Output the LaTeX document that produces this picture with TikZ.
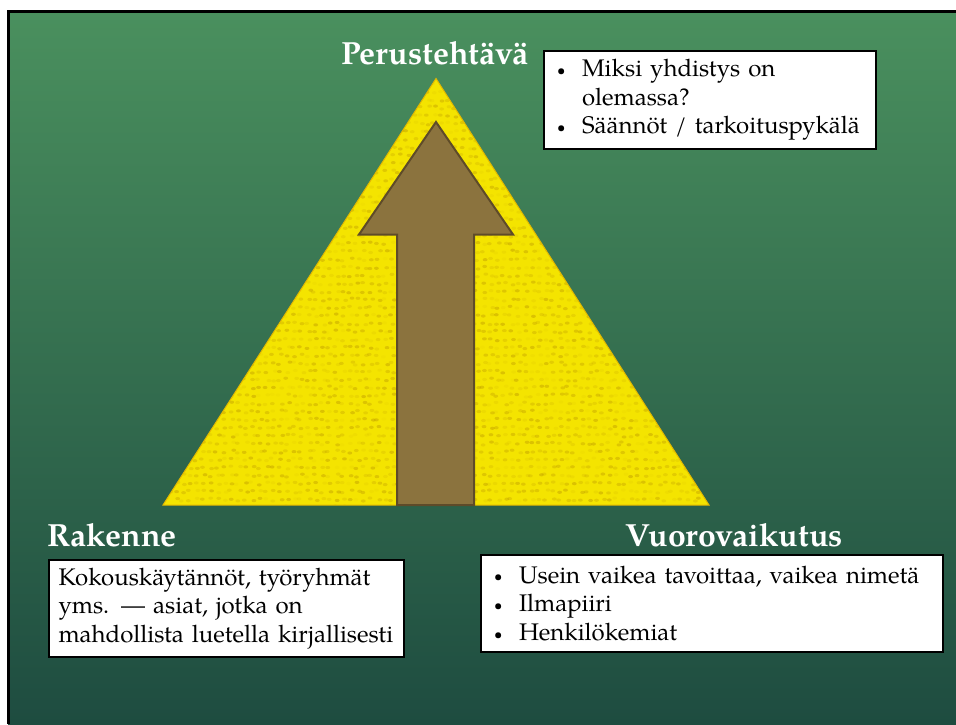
\documentclass[tikz,border=0pt]{standalone}
\usepackage{fontspec}
\setmainfont{TeX Gyre Pagella}
\definecolor{bgtop}{HTML}{4A905E}
\definecolor{bgmid}{HTML}{2E6A4C}
\definecolor{bgbot}{HTML}{1E4C40}
\definecolor{pyr}{HTML}{F4E400}
\definecolor{pyredge}{HTML}{E3B800}
\definecolor{pyrdot}{HTML}{C2A000}
\definecolor{arrowfill}{HTML}{8B733E}
\definecolor{arrowedge}{HTML}{5E4B29}
\tikzset{
  heading/.style={text=white, font=\fontsize{32}{38}\selectfont\bfseries, inner sep=0pt},
  infobox/.style={draw=black, line width=2pt, fill=white, anchor=north west, align=left,
    inner xsep=12pt, inner ysep=0pt, font=\fontsize{24}{28.6}\selectfont},
}
\newcommand{\bul}{\makebox[26pt][l]{\hspace*{1pt}\raisebox{1.5pt}{\scalebox{0.62}{\textbullet}}}}
\begin{document}
\begin{tikzpicture}[x=1pt,y=-1pt]
\useasboundingbox (0,0) rectangle (956,724);
% background slide
\fill[white] (0,0) rectangle (956,724);
\shade[top color=bgtop, middle color=bgmid, bottom color=bgbot] (8,11.5) rectangle (956,724);
\draw[black, line width=3pt] (8,724) -- (8,11.5) -- (956,11.5);
% pyramid
\coordinate (apex) at (436,78.5);
\coordinate (bl) at (163,505);
\coordinate (br) at (709,505);
\fill[pyr] (apex) -- (br) -- (bl) -- cycle;
\begin{scope}
  \clip (apex) -- (br) -- (bl) -- cycle;
  \pgfmathsetseed{7}
  \foreach \yy in {82,90,...,506}{
    \foreach \xx in {166,173,...,708}{
      \pgfmathsetmacro\dx{\xx+rnd*5}
      \pgfmathsetmacro\dy{\yy+rnd*3}
      \pgfmathsetmacro\op{0.05+0.45*rnd}
      \fill[pyrdot, opacity=\op] (\dx,\dy) ellipse (2.4pt and 1.6pt);
    }
  }
\end{scope}
\draw[pyredge, line width=1pt] (apex) -- (br) -- (bl) -- cycle;
% arrow
\draw[arrowedge, fill=arrowfill, line width=2pt, line join=miter]
  (436,122) -- (513,234.5) -- (474,234.5) -- (474,505) -- (397,505) -- (397,234.5) -- (359,234.5) -- cycle;
% headings
\node[heading, anchor=base west] (perus) at (341,64.5) {Perustehtävä};
\node[heading, anchor=base west] (rak) at (47,546.5) {Rakenne};
\node[heading, anchor=base west] (vuoro) at (625,546.5) {Vuorovaikutus};
% boxes
\node[infobox, minimum width=332pt, minimum height=98pt, text width=308pt] (box1) at (543,50)
  {\bul Miksi yhdistys on\\\hspace*{26pt}olemassa?\\\bul Säännöt / tarkoituspykälä};
\node[infobox, inner xsep=10pt, minimum width=355pt, minimum height=97pt, text width=335pt] (box2) at (47.5,559)
  {Kokouskäytännöt, työryhmät\\yms. — asiat, jotka on\\mahdollista luetella kirjallisesti};
\node[infobox, minimum width=462pt, minimum height=97pt, text width=438pt] (box3) at (480,554)
  {\bul Usein vaikea tavoittaa, vaikea nimetä\\\bul Ilmapiiri\\\bul Henkilökemiat};
\end{tikzpicture}
\end{document}
